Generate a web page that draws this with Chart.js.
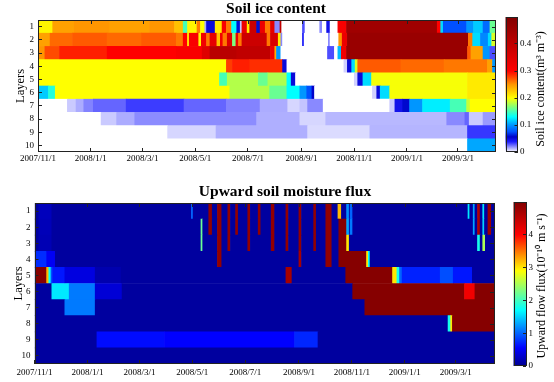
<!DOCTYPE html>
<html>
<head>
<meta charset="utf-8">
<script src="https://cdn.jsdelivr.net/npm/chart.js@4.4.1/dist/chart.umd.min.js"></script>
<style>
  body { margin: 0; background: #fff; }
  #wrap { position: relative; width: 554px; height: 382px; }
  canvas { position: absolute; }
</style>
</head>
<body>
<div id="wrap">
  <canvas id="iceChart" width="500" height="172" style="left:0;top:0"></canvas>
  <canvas id="iceBar" width="54" height="172" style="left:500px;top:0"></canvas>
  <canvas id="fluxChart" width="500" height="202" style="left:0;top:180px"></canvas>
  <canvas id="fluxBar" width="54" height="202" style="left:500px;top:180px"></canvas>
</div>
<script>
// days counted from 2007/11/1
const lastDay = 530;
const layers = ["1", "2", "3", "4", "5", "6", "7", "8", "9", "10"];
const tickDays = [0, 61, 121, 182, 243, 305, 366, 427, 486];
const tickLabels = ["2007/11/1", "2008/1/1", "2008/3/1", "2008/5/1", "2008/7/1", "2008/9/1", "2008/11/1", "2009/1/1", "2009/3/1"];

// soil ice content, [start day, value] until next start
const iceL1 = [[0,0.205],[17,0.245],[42,0.25],[83,0.245],[129,0.25],[158,0.23],[168,0.15],[173,0.205],[184,0.26],[188,0.2],[193,0.015],[195,0.05],[205,0.21],[213,0.31],[218,0.26],[224,0.13],[230,0.06],[234,0.01],[236,0.33],[242,0.21],[245,0.38],[253,0.06],[257,0.33],[263,0.26],[269,0.34],[274,0.02],[280,0.4],[282,0],[306,0.03],[309,0],[326,0.02],[329,0],[334,0.045],[338,0],[347,0.31],[357,0.45],[462,0.3],[466,0.12],[469,0.075],[496,0.1],[504,0.115],[515,0.085],[523,0.16]];
const iceL2 = [[0,0.245],[14,0.265],[40,0.27],[80,0.265],[120,0.27],[160,0.26],[168,0.3],[173,0.205],[175,0.31],[186,0.205],[189,0.32],[195,0.26],[199,0.34],[207,0.23],[211,0.32],[214,0.26],[219,0.35],[225,0.165],[229,0.33],[232,0.26],[236,0.38],[265,0.26],[269,0.36],[278,0.21],[281,0.02],[283,0],[306,0.04],[308,0],[336,0.02],[338,0],[348,0.25],[352,0.33],[358,0.46],[498,0.26],[503,0.12],[512,0.095],[521,0.12],[525,0.19]];
const iceL3 = [[0,0.25],[8,0.275],[25,0.29],[80,0.3],[160,0.31],[190,0.35],[199,0.41],[230,0.4],[269,0.33],[274,0.24],[276,0.1],[281,0],[335,0.03],[343,0],[347,0.11],[351,0.32],[357,0.46],[497,0.27],[501,0.245],[515,0.1],[523,0.03]];
const iceL4 = [[0,0.2],[218,0.28],[225,0.29],[245,0.285],[283,0.05],[288,0],[354,0.008],[358,0.05],[363,0.12],[367,0.19],[370,0.27],[420,0.265],[470,0.26],[520,0.245],[526,0.1]];
const iceL5 = [[0,0.2],[210,0.15],[219,0.18],[255,0.16],[266,0.178],[288,0.13],[293,0.05],[298,0],[366,0.008],[370,0.05],[376,0.12],[386,0.198],[497,0.21]];
const iceL6 = [[0,0.115],[12,0.14],[20,0.2],[222,0.18],[268,0.16],[288,0.13],[303,0.1],[311,0.075],[317,0.055],[320,0],[387,0.008],[392,0.05],[396,0.12],[407,0.198],[497,0.21]];
const iceL7 = [[0,0],[34,0.009],[44,0.014],[53,0.021],[64,0.026],[102,0.033],[169,0.026],[218,0.021],[257,0.014],[289,0.007],[303,0.01],[312,0.02],[330,0],[407,0.009],[413,0.045],[422,0.058],[430,0.1],[445,0.125],[477,0.15],[496,0.185],[500,0.2]];
const iceL8 = [[0,0],[73,0.009],[91,0.014],[112,0.0195],[253,0.0135],[303,0.007],[333,0.012],[473,0.02],[494,0.026],[499,0.009],[515,0.017]];
const iceL9 = [[0,0],[150,0.007],[206,0.0135],[312,0.006],[384,0.0125],[497,0.034]];
const iceL10 = [[0,0],[497,0.105]];

// upward soil moisture flux (1e-10 m/s)
const fluxL1 = [[0,0.08],[5,0.22],[20,0.08],[181,1.0],[183,0.08],[201,4.85],[205,0.08],[211,4.85],[216,0.08],[223,4.85],[226,0.08],[232,4.85],[235,0.08],[246,4.85],[249,0.08],[258,4.85],[261,0.08],[273,4.85],[277,0.08],[290,4.85],[293,0.08],[305,4.85],[308,0.08],[322,4.85],[325,0.08],[336,4.85],[343,0.08],[350,3.2],[354,0.08],[360,1.2],[363,0.08],[364,1.0],[367,0.08],[500,1.6],[502,0.08],[506,1.3],[508,0.08],[511,4.6],[514,0.08],[517,1.6],[519,0.08],[523,4.8],[527,0.08]];
const fluxL2 = [[0,0.08],[5,0.2],[20,0.08],[192,2.2],[194,0.08],[201,4.85],[205,0.08],[211,4.85],[216,0.08],[223,4.85],[226,0.08],[232,4.85],[235,0.08],[246,4.85],[249,0.08],[258,4.85],[261,0.08],[273,4.85],[277,0.08],[290,4.85],[293,0.08],[305,4.85],[308,0.08],[322,4.85],[325,0.08],[336,4.85],[343,0.08],[351,4.95],[360,1.3],[363,0.08],[364,1.1],[367,0.08],[506,1.3],[508,0.08],[511,4.6],[514,0.08],[517,1.5],[519,0.08],[523,4.8],[527,0.08]];
const fluxL3 = [[0,0.08],[5,0.18],[20,0.08],[192,2.2],[194,0.08],[211,4.85],[216,0.08],[223,4.85],[226,0.08],[246,4.85],[249,0.08],[273,4.85],[277,0.08],[290,4.85],[293,0.08],[305,4.85],[308,0.08],[322,4.85],[325,0.08],[336,4.85],[343,0.08],[351,4.95],[360,3.0],[363,0.08],[511,1.8],[514,0.08],[517,2.5],[520,0.08]];
const fluxL4 = [[0,0.08],[1,0.75],[14,0.5],[24,0.08],[211,4.85],[216,0.08],[305,4.7],[308,0.08],[336,4.85],[343,0.08],[351,4.95],[383,3.0],[385,1.7],[387,0.08]];
const fluxL5 = [[0,0.08],[1,4.95],[14,3.2],[16.5,1.7],[19,0.9],[21,0.65],[35,0.4],[70,0.15],[100,0.08],[290,4.7],[297,0.08],[359,4.95],[413,3.0],[418,1.8],[421,1.0],[424,0.7],[468,0.9],[483,0.65],[505,0.08]];
const fluxL6 = [[0,0.08],[20,1.6],[40,1.1],[70,0.35],[101,0.08],[367,4.95],[496,4.1],[508,4.95]];
const fluxL7 = [[0,0.08],[35,1.1],[70,0.08],[381,4.95]];
const fluxL8 = [[0,0.08],[477,1.8],[480,3.0],[482,4.95]];
const fluxL9 = [[0,0.08],[72,0.6],[150,0.55],[300,0.72],[327,0.08]];
const fluxL10 = [[0,0.08]];

const iceTicks = [0, 0.1, 0.2, 0.3, 0.4];
const iceTickLabels = ["0", "0.1", "0.2", "0.3", "0.4"];
const fluxTicks = [0, 1, 2, 3, 4];
const fluxTickLabels = ["0", "1", "2", "3", "4"];

const iceStops = [[0,[255,255,255]],[0.038,[30,30,255]],[0.056,[0,0,200]],[0.075,[0,80,255]],[0.1,[0,150,255]],[0.13,[0,255,255]],[0.167,[130,255,120]],[0.2,[255,255,0]],[0.25,[255,150,0]],[0.3,[255,0,0]],[0.5,[128,0,0]]];
const jetStops = [[0,[0,0,143]],[0.55,[0,0,255]],[1.7,[0,255,255]],[2.9,[255,255,0]],[4.0,[255,0,0]],[5,[128,0,0]]];

const serif = "'Liberation Serif', 'Times New Roman', serif";

function colormap(stops) {
  return v => {
    if (v <= stops[0][0]) return "rgb(" + stops[0][1].join(",") + ")";
    for (let i = 1; i < stops.length; i++) {
      if (v <= stops[i][0]) {
        const [v0, c0] = stops[i - 1];
        const [v1, c1] = stops[i];
        const t = (v - v0) / (v1 - v0);
        return "rgb(" + c0.map((c, k) => Math.round(c + (c1[k] - c) * t)).join(",") + ")";
      }
    }
    return "rgb(" + stops[stops.length - 1][1].join(",") + ")";
  };
}

function segmentsFor(layerArrays) {
  const out = [];
  layerArrays.forEach((segs, i) => {
    segs.forEach(([from, v], j) => {
      const to = j + 1 < segs.length ? segs[j + 1][0] : lastDay;
      out.push({ y: layers[i], x: [from, to], v: v });
    });
  });
  return out;
}

function textPlugin(items) {
  return {
    id: "texts",
    afterDraw(chart) {
      const ctx = chart.ctx;
      items.forEach(t => {
        ctx.save();
        ctx.font = t.font;
        ctx.fillStyle = "#000";
        ctx.textAlign = "center";
        ctx.textBaseline = "middle";
        ctx.translate(t.x, t.y);
        ctx.rotate(t.rotate || 0);
        ctx.fillText(t.text, 0, 0);
        ctx.restore();
      });
    }
  };
}

// box round the plot area, with mirrored ticks on top and right
function framePlugin(mirrorTicks) {
  return {
    id: "frame",
    afterDraw(chart) {
      const { ctx, chartArea: a, scales } = chart;
      ctx.save();
      ctx.strokeStyle = "#222";
      ctx.lineWidth = 1;
      ctx.strokeRect(Math.round(a.left) + 0.5, Math.round(a.top) + 0.5, Math.round(a.width) - 1, Math.round(a.height) - 1);
      if (mirrorTicks) {
        ctx.beginPath();
        tickDays.forEach(d => {
          const x = Math.round(scales.x.getPixelForValue(d)) + 0.5;
          ctx.moveTo(x, a.top);
          ctx.lineTo(x, a.top + 4);
        });
        layers.forEach((l, i) => {
          const y = Math.round(scales.y.getPixelForTick(i)) + 0.5;
          ctx.moveTo(a.right, y);
          ctx.lineTo(a.right - 4, y);
        });
        ctx.stroke();
      }
      ctx.restore();
    }
  };
}

function gradientPlugin(stops) {
  return {
    id: "gradient",
    beforeDatasetsDraw(chart) {
      const { ctx, chartArea: a, scales: { y } } = chart;
      const g = ctx.createLinearGradient(0, y.getPixelForValue(y.min), 0, y.getPixelForValue(y.max));
      stops.forEach(([v, c]) => g.addColorStop((v - y.min) / (y.max - y.min), "rgb(" + c.join(",") + ")"));
      ctx.save();
      ctx.fillStyle = g;
      ctx.fillRect(a.left, a.top, a.width, a.height);
      ctx.restore();
    }
  };
}

function drawHeatmap(id, layerArrays, stops, o) {
  const color = colormap(stops);
  return new Chart(document.getElementById(id), {
    type: "bar",
    data: {
      labels: layers,
      datasets: [{
        data: segmentsFor(layerArrays),
        backgroundColor: c => (c.raw ? color(c.raw.v) : "#fff"),
        borderWidth: 0,
        barPercentage: 1,
        categoryPercentage: 1,
        grouped: false
      }]
    },
    options: {
      indexAxis: "y",
      responsive: false,
      animation: false,
      layout: { padding: o.padding },
      plugins: { legend: { display: false }, tooltip: { enabled: false } },
      scales: {
        x: {
          type: "linear",
          min: 0,
          max: lastDay,
          afterBuildTicks: s => { s.ticks = tickDays.map(v => ({ value: v })); },
          ticks: { callback: (v, i) => tickLabels[i], autoSkip: false, maxRotation: 0, color: "#000", font: { family: serif, size: 9 }, padding: o.xPad },
          grid: { drawOnChartArea: false, tickLength: -4, color: "#222", z: 1 },
          border: { display: false },
          afterFit: s => { s.height = o.xHeight; }
        },
        y: {
          ticks: { autoSkip: false, color: "#000", font: { family: serif, size: 9 }, padding: 8 },
          grid: { drawOnChartArea: false, offset: false, tickLength: -4, color: "#222", z: 1 },
          border: { display: false },
          title: { display: true, text: "Layers", color: "#000", font: { family: serif, size: 12.5 }, padding: { top: o.titlePad, bottom: 0 } },
          afterFit: s => { s.width = o.yWidth; }
        }
      }
    },
    plugins: [framePlugin(true), textPlugin([{ text: o.title, x: o.titleX, y: o.titleY, font: "bold 15.5px " + serif }])]
  });
}

function drawColorbar(id, stops, ticks, labels, max, label, o) {
  return new Chart(document.getElementById(id), {
    type: "scatter",
    data: { datasets: [] },
    options: {
      responsive: false,
      animation: false,
      layout: { padding: o.padding },
      plugins: { legend: { display: false }, tooltip: { enabled: false } },
      scales: {
        x: { display: false },
        y: {
          position: "right",
          min: 0,
          max: max,
          afterBuildTicks: s => { s.ticks = ticks.map(v => ({ value: v })); },
          ticks: { callback: (v, i) => labels[i], color: "#000", font: { family: serif, size: 9 }, padding: 5.5 },
          grid: { drawOnChartArea: false, tickLength: -3, color: "#222", z: 1 },
          border: { display: false },
          afterFit: s => { s.width = o.yWidth; }
        }
      }
    },
    plugins: [gradientPlugin(stops), framePlugin(false), textPlugin([{ text: label, x: o.labelX, y: o.labelY, rotate: -Math.PI / 2, font: "12px " + serif }])]
  });
}

drawHeatmap("iceChart", [iceL1, iceL2, iceL3, iceL4, iceL5, iceL6, iceL7, iceL8, iceL9, iceL10], iceStops, {
  padding: { left: 0, right: 4, top: 20, bottom: 0 },
  xHeight: 20, yWidth: 38, xPad: 5, titlePad: 13.5,
  title: "Soil ice content", titleX: 276, titleY: 9
});

drawHeatmap("fluxChart", [fluxL1, fluxL2, fluxL3, fluxL4, fluxL5, fluxL6, fluxL7, fluxL8, fluxL9, fluxL10], jetStops, {
  padding: { left: 0, right: 6, top: 23, bottom: 0 },
  xHeight: 18, yWidth: 34.5, xPad: 7, titlePad: 11,
  title: "Upward soil moisture flux", titleX: 285, titleY: 12
});

drawColorbar("iceBar", iceStops, iceTicks, iceTickLabels, 0.5, "Soil ice content(m³ m⁻³)", {
  padding: { left: 5.5, right: 0, top: 17, bottom: 20 },
  yWidth: 36.5, labelX: 41, labelY: 89
});

drawColorbar("fluxBar", jetStops, fluxTicks, fluxTickLabels, 5, "Upward flow flux(10⁻¹⁰ m s⁻¹)", {
  padding: { left: 13.5, right: 0, top: 22, bottom: 16 },
  yWidth: 28, labelX: 42, labelY: 106
});
</script>
</body>
</html>
